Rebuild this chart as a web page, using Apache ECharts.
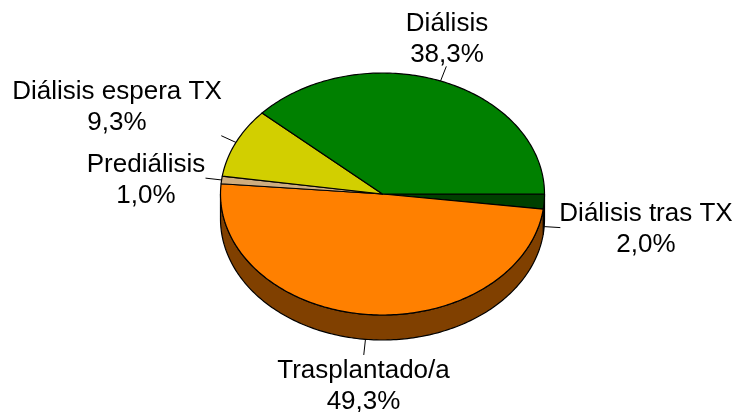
<!DOCTYPE html>
<html>
<head>
<meta charset="utf-8">
<style>html,body{margin:0;padding:0;background:#fff}#c{width:735px;height:412px}</style>
<script src="https://cdn.jsdelivr.net/npm/echarts@6/dist/echarts.min.js"></script>
</head>
<body>
<div id="c"></div>
<script>
var categories = ['Diálisis tras TX', 'Trasplantado/a', 'Prediálisis', 'Diálisis espera TX', 'Diálisis'];
var values = [2.0, 49.3, 1.0, 9.3, 38.3];
var topColors = ['#004000', '#FF8000', '#CFAD7F', '#D2CF00', '#008000'];
var wallColors = ['#002000', '#804000', '#685740', '#6A6900', '#004000'];
var labelCenters = [[646, 229], [363.5, 386.5], [146, 180], [117, 107.5], [447, 39]];

var cx = 382.5, cy = 194, rx = 162, ry = 121, depth = 25;
var total = values.reduce(function (a, b) { return a + b; }, 0);
function pt(deg, dy, k, ky) {
  var a = deg * Math.PI / 180;
  return [cx + rx * (k || 1) * Math.cos(a), cy + (dy || 0) + ry * (ky || k || 1) * Math.sin(a)];
}
function arc(a0, a1, dy) {
  var pts = [], n = Math.max(2, Math.ceil(Math.abs(a1 - a0)));
  for (var i = 0; i <= n; i++) pts.push(pt(a0 + (a1 - a0) * i / n, dy));
  return pts;
}
function renderSlice(params, api) {
  var i = params.dataIndex, v = api.value(0), start = 0;
  for (var j = 0; j < i; j++) start += values[j];
  var a0 = start / total * 360, a1 = (start + v) / total * 360, mid = (a0 + a1) / 2;
  var children = [];
  var w0 = Math.max(a0, 0), w1 = Math.min(a1, 180);
  if (w1 > w0) {
    children.push({
      type: 'polygon', z2: 1,
      shape: { points: arc(w0, w1, 0).concat(arc(w1, w0, depth)) },
      style: { fill: wallColors[i], stroke: '#000', lineWidth: 1.2, lineJoin: 'round' }
    });
  }
  children.push({
    type: 'polygon', z2: 2,
    shape: { points: [[cx, cy]].concat(arc(a0, a1, 0)) },
    style: { fill: topColors[i], stroke: '#000', lineWidth: 1.2, lineJoin: 'round' }
  });
  var dy = (mid > 0 && mid < 180) ? depth : 0;
  var p0 = pt(mid, dy), p1 = pt(mid, dy, 1.1, 1.13);
  children.push({
    type: 'line', z2: 3,
    shape: { x1: p0[0], y1: p0[1], x2: p1[0], y2: p1[1] },
    style: { stroke: '#000', lineWidth: 1 }
  });
  children.push({
    type: 'text', z2: 4,
    x: labelCenters[i][0], y: labelCenters[i][1],
    style: {
      text: categories[i] + '\n' + v.toFixed(1).replace('.', ',') + '%',
      fill: '#000', align: 'center', verticalAlign: 'middle',
      font: '26px "Liberation Sans", Arial, sans-serif', lineHeight: 31
    }
  });
  return { type: 'group', children: children };
}
var chart = echarts.init(document.getElementById('c'), null, { renderer: 'canvas' });
chart.setOption({
  animation: false,
  backgroundColor: '#fff',
  series: [{
    type: 'custom',
    coordinateSystem: 'none',
    renderItem: renderSlice,
    data: values.map(function (v, i) { return { name: categories[i], value: [v] }; })
  }]
});
</script>
</body>
</html>
